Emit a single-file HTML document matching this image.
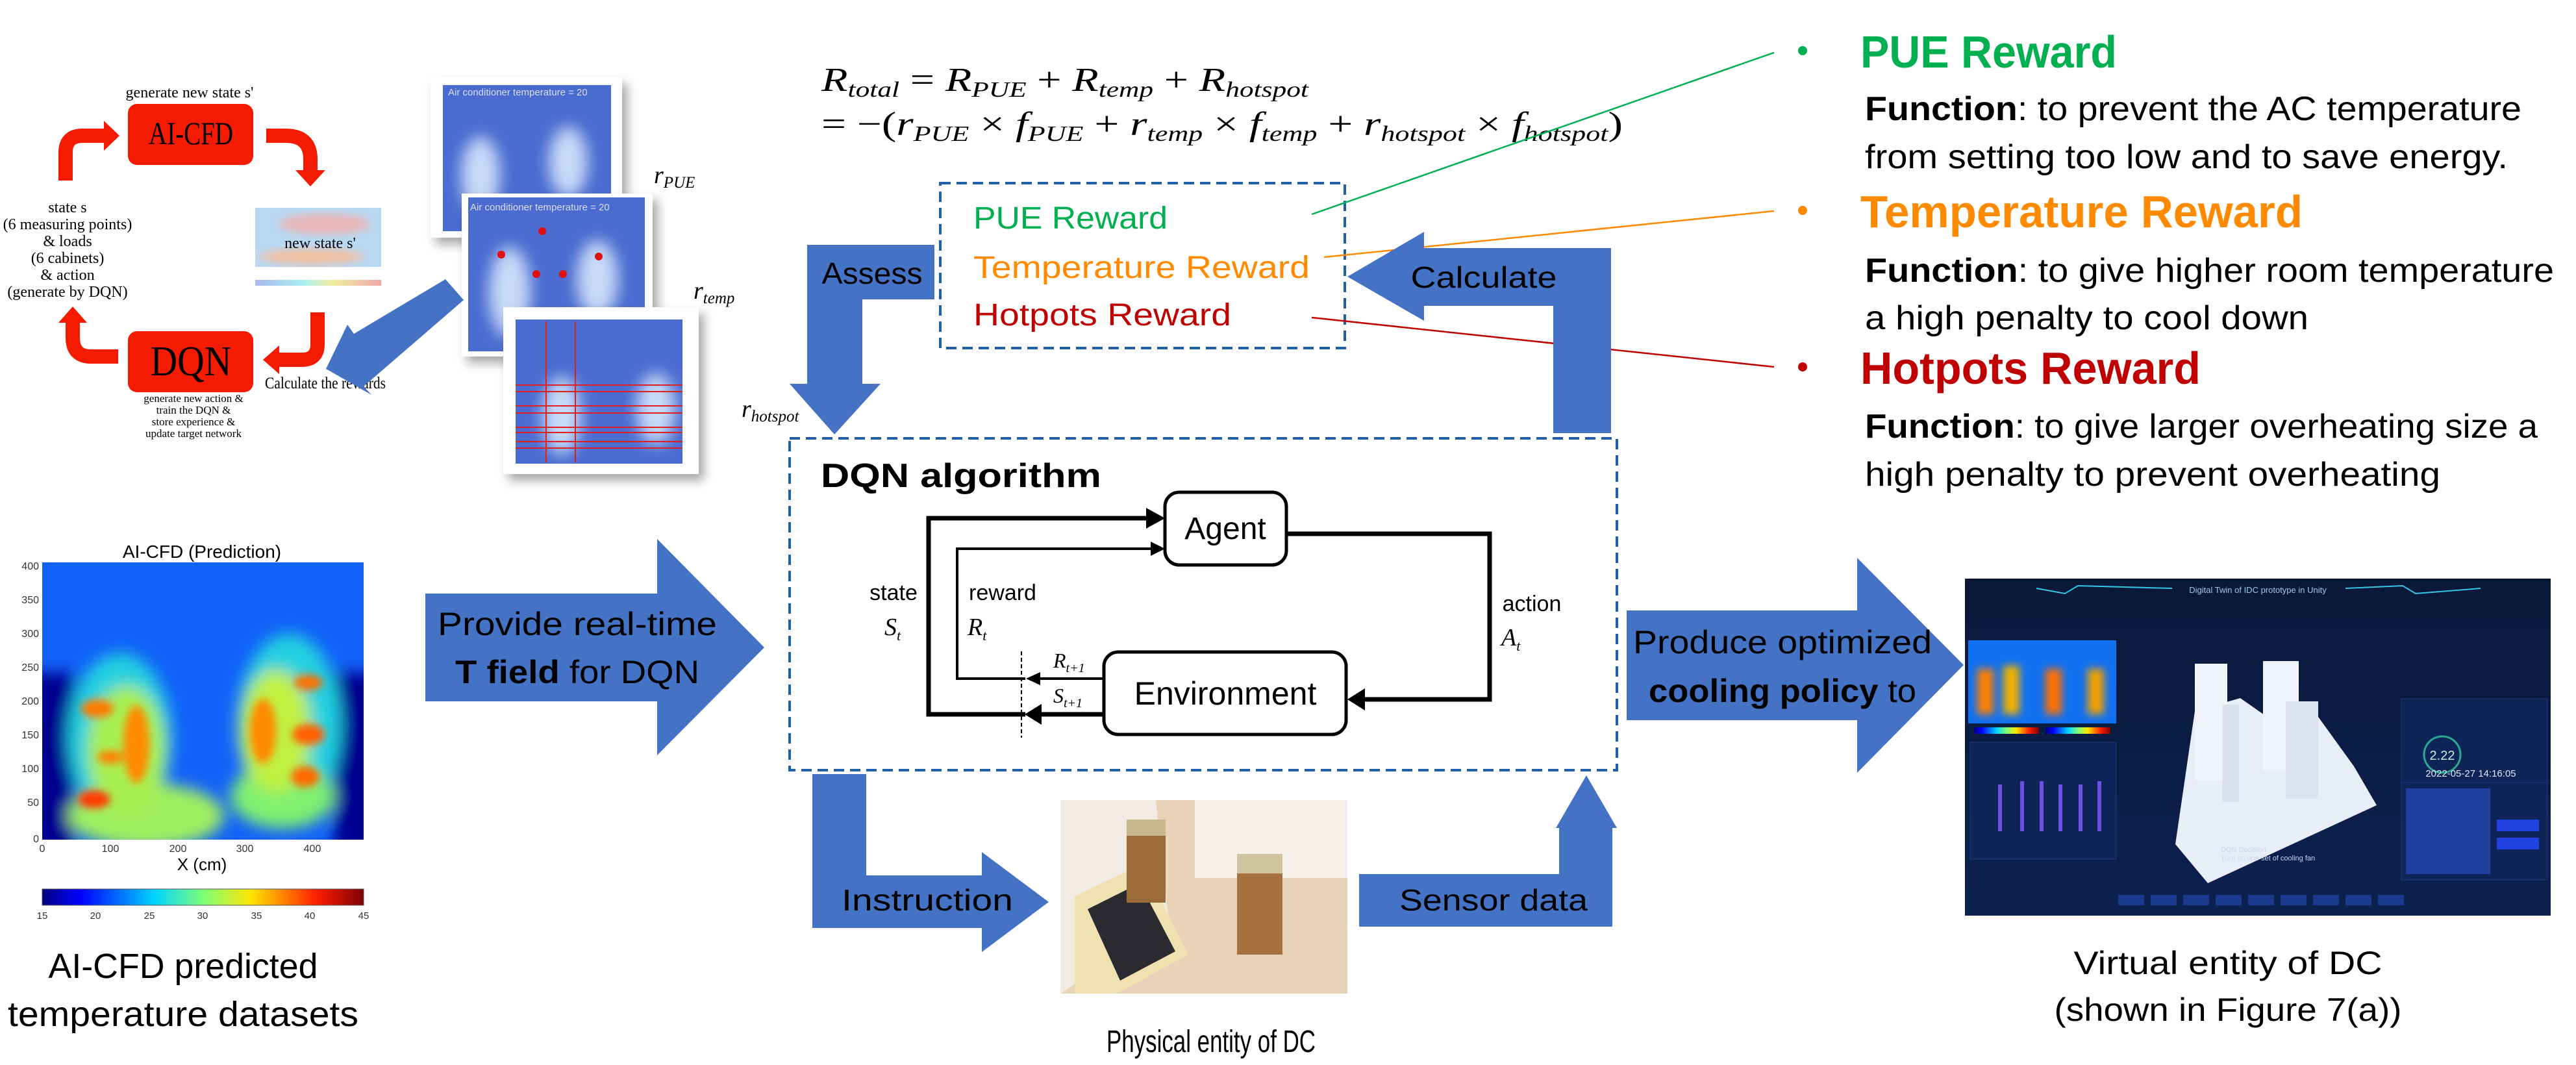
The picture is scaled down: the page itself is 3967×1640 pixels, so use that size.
<!DOCTYPE html>
<html><head><meta charset="utf-8"><style>
html,body{margin:0;padding:0;background:#fff;}
svg{display:block}
.c{font-family:"Liberation Sans",sans-serif}
.s{font-family:"Liberation Serif",serif}
</style></head><body>
<svg width="3967" height="1640" viewBox="0 0 3967 1640" xmlns="http://www.w3.org/2000/svg">
<defs>
<filter id="bl" x="-20%" y="-20%" width="140%" height="140%"><feGaussianBlur stdDeviation="12"/></filter>
<filter id="bl2" x="-20%" y="-20%" width="140%" height="140%"><feGaussianBlur stdDeviation="6"/></filter>
<filter id="sh" x="-10%" y="-10%" width="130%" height="130%"><feDropShadow dx="8" dy="10" stdDeviation="8" flood-color="#000" flood-opacity="0.35"/></filter>
<linearGradient id="jet" x1="0" x2="1" y1="0" y2="0">
<stop offset="0" stop-color="#00007f"/><stop offset="0.12" stop-color="#0000ff"/><stop offset="0.35" stop-color="#00d4ff"/><stop offset="0.5" stop-color="#7cff79"/><stop offset="0.65" stop-color="#ffe600"/><stop offset="0.85" stop-color="#ff2000"/><stop offset="1" stop-color="#7f0000"/></linearGradient>
<linearGradient id="jetl" x1="0" x2="1"><stop offset="0" stop-color="#a8b8f0"/><stop offset="0.4" stop-color="#a8f0f0"/><stop offset="0.6" stop-color="#f0f0a0"/><stop offset="1" stop-color="#f0a8a8"/></linearGradient>
<linearGradient id="scr" x1="0" x2="0" y1="0" y2="1"><stop offset="0" stop-color="#0a1838"/><stop offset="1" stop-color="#0c2050"/></linearGradient>
</defs>

<!-- ===== Top-left loop ===== -->
<text x="292" y="150" class="s" font-size="24" text-anchor="middle">generate new state s'</text>
<rect x="197" y="160" width="193" height="94" rx="14" fill="#f51b00"/>
<text x="294" y="222" class="s" font-size="50" text-anchor="middle" textLength="130" lengthAdjust="spacingAndGlyphs">AI-CFD</text>
<rect x="197" y="510" width="193" height="94" rx="14" fill="#f51b00"/>
<text x="294" y="578" class="s" font-size="66" text-anchor="middle" textLength="125" lengthAdjust="spacingAndGlyphs">DQN</text>
<g fill="none" stroke="#f51b00" stroke-width="22">
<path d="M101,278 L101,235 Q101,209 127,209 L165,209"/>
<path d="M410,209 L440,209 Q478,209 478,245 L478,265"/>
<path d="M182,549 L140,549 Q112,549 112,520 L112,493"/>
<path d="M489,481 L489,530 Q489,554 465,554 L425,554"/>
</g>
<g fill="#f51b00">
<path d="M160,186 L184,209 L160,232 z"/>
<path d="M455,262 L501,262 L478,287 z"/>
<path d="M90,497 L134,497 L112,472 z"/>
<path d="M430,532 L430,576 L405,554 z"/>
</g>
<g class="s" font-size="24" text-anchor="middle">
<text x="104" y="327">state s</text>
<text x="104" y="353">(6 measuring points)</text>
<text x="104" y="379">&amp; loads</text>
<text x="104" y="405">(6 cabinets)</text>
<text x="104" y="431">&amp; action</text>
<text x="104" y="457">(generate by DQN)</text>
</g>
<rect x="393" y="320" width="194" height="91" fill="#b9d8f2"/>
<ellipse cx="500" cy="345" rx="70" ry="16" fill="#e8b8b8" filter="url(#bl2)"/>
<ellipse cx="480" cy="395" rx="80" ry="12" fill="#f0c0a0" filter="url(#bl2)"/>
<rect x="393" y="431" width="194" height="9" fill="url(#jetl)"/>
<text x="493" y="382" class="s" font-size="24" text-anchor="middle">new state s'</text>
<g class="s" font-size="17" text-anchor="middle">
<text x="298" y="619">generate new action &amp;</text>
<text x="298" y="637">train the DQN &amp;</text>
<text x="298" y="655">store experience &amp;</text>
<text x="298" y="673">update target network</text>
</g>
<text x="501" y="598" class="s" font-size="25" text-anchor="middle" textLength="186" lengthAdjust="spacingAndGlyphs">Calculate the rewards</text>

<!-- reward images -->
<g filter="url(#sh)"><rect x="663" y="119" width="295" height="247" fill="#fff"/></g>
<rect x="682" y="131" width="259" height="225" fill="#4a6bd0"/>
<g filter="url(#bl)" fill="#c8daf8"><ellipse cx="740" cy="270" rx="30" ry="60"/><ellipse cx="875" cy="250" rx="30" ry="55"/></g>
<text x="690" y="147" class="c" font-size="15" fill="#dde">Air conditioner temperature = 20</text>
<text x="1007" y="282" class="s" font-style="italic" font-size="38">r<tspan font-size="25" dy="7">PUE</tspan></text>

<g filter="url(#sh)"><rect x="711" y="298" width="294" height="251" fill="#fff"/></g>
<rect x="721" y="304" width="272" height="237" fill="#4a6bd0"/>
<g filter="url(#bl)" fill="#c8daf8"><ellipse cx="785" cy="450" rx="32" ry="70"/><ellipse cx="920" cy="430" rx="32" ry="60"/></g>
<text x="724" y="324" class="c" font-size="15" fill="#dde">Air conditioner temperature = 20</text>
<g fill="#e01010"><circle cx="835" cy="356" r="6"/><circle cx="772" cy="392" r="6"/><circle cx="826" cy="422" r="6"/><circle cx="867" cy="422" r="6"/><circle cx="922" cy="395" r="6"/></g>
<text x="1068" y="460" class="s" font-style="italic" font-size="38">r<tspan font-size="25" dy="7">temp</tspan></text>

<g filter="url(#sh)"><rect x="775" y="473" width="301" height="257" fill="#fff"/></g>
<rect x="794" y="492" width="257" height="222" fill="#4a6bd0"/>
<g filter="url(#bl)" fill="#c8daf8"><ellipse cx="865" cy="640" rx="30" ry="60"/><ellipse cx="1010" cy="630" rx="30" ry="55"/></g>
<g stroke="#e02020" stroke-width="2" fill="none"><path d="M794,593 H1051 M794,603 H1051 M794,625 H1051 M794,636 H1051 M794,658 H1051 M794,666 H1051 M794,680 H1051 M794,690 H1051 M841,495 V712 M886,495 V712"/></g>
<text x="1142" y="642" class="s" font-style="italic" font-size="38">r<tspan font-size="25" dy="7">hotspot</tspan></text>

<!-- blue diagonal arrow -->
<path d="M686,430 L714,462 L560,595 L572,608 L502,568 L535,500 L545,514 z" fill="#4472c4"/>

<!-- ===== formula ===== -->
<g class="s" font-size="52" font-style="italic">
<text x="1265" y="140" textLength="750" lengthAdjust="spacingAndGlyphs">R<tspan font-size="34" dy="9">total</tspan><tspan dy="-9" font-style="normal"> = </tspan>R<tspan font-size="34" dy="9">PUE</tspan><tspan dy="-9" font-style="normal"> + </tspan>R<tspan font-size="34" dy="9">temp</tspan><tspan dy="-9" font-style="normal"> + </tspan>R<tspan font-size="34" dy="9">hotspot</tspan></text>
<text x="1265" y="208" textLength="1234" lengthAdjust="spacingAndGlyphs"><tspan font-style="normal">= −(</tspan>r<tspan font-size="34" dy="9">PUE</tspan><tspan dy="-9" font-style="normal"> × </tspan>f<tspan font-size="34" dy="9">PUE</tspan><tspan dy="-9" font-style="normal"> + </tspan>r<tspan font-size="34" dy="9">temp</tspan><tspan dy="-9" font-style="normal"> × </tspan>f<tspan font-size="34" dy="9">temp</tspan><tspan dy="-9" font-style="normal"> + </tspan>r<tspan font-size="34" dy="9">hotspot</tspan><tspan dy="-9" font-style="normal"> × </tspan>f<tspan font-size="34" dy="9">hotspot</tspan><tspan dy="-9" font-style="normal">)</tspan></text>
</g>

<!-- reward dashed box -->
<rect x="1448" y="282" width="623" height="254" fill="none" stroke="#1f5fa8" stroke-width="4" stroke-dasharray="16,9"/>
<text x="1499" y="352" class="c" font-size="48" fill="#00b050" textLength="299" lengthAdjust="spacingAndGlyphs">PUE Reward</text>
<text x="1499" y="428" class="c" font-size="48" fill="#ff8a00" textLength="518" lengthAdjust="spacingAndGlyphs">Temperature Reward</text>
<text x="1499" y="501" class="c" font-size="48" fill="#c00000" textLength="397" lengthAdjust="spacingAndGlyphs">Hotpots Reward</text>

<!-- leader lines -->
<line x1="2020" y1="330" x2="2732" y2="81" stroke="#00b050" stroke-width="2.5"/>
<line x1="2039" y1="396" x2="2732" y2="325" stroke="#ff8a00" stroke-width="2.5"/>
<line x1="2020" y1="489" x2="2732" y2="565" stroke="#c00000" stroke-width="2.5"/>

<!-- right text -->
<circle cx="2776" cy="78" r="7" fill="#00b050"/>
<text x="2865" y="104" class="c" font-size="70" font-weight="bold" fill="#00b050" textLength="395" lengthAdjust="spacingAndGlyphs">PUE Reward</text>
<g class="c" font-size="52">
<text x="2872" y="185" textLength="1011" lengthAdjust="spacingAndGlyphs"><tspan font-weight="bold">Function</tspan>: to prevent the AC temperature</text>
<text x="2872" y="259" textLength="990" lengthAdjust="spacingAndGlyphs">from setting too low and to save energy.</text>
</g>
<circle cx="2776" cy="324" r="7" fill="#ff8a00"/>
<text x="2865" y="350" class="c" font-size="70" font-weight="bold" fill="#ff8a00" textLength="681" lengthAdjust="spacingAndGlyphs">Temperature Reward</text>
<g class="c" font-size="52">
<text x="2872" y="434" textLength="1061" lengthAdjust="spacingAndGlyphs"><tspan font-weight="bold">Function</tspan>: to give higher room temperature</text>
<text x="2872" y="507" textLength="683" lengthAdjust="spacingAndGlyphs">a high penalty to cool down</text>
</g>
<circle cx="2776" cy="565" r="7" fill="#c00000"/>
<text x="2865" y="591" class="c" font-size="70" font-weight="bold" fill="#c00000" textLength="524" lengthAdjust="spacingAndGlyphs">Hotpots Reward</text>
<g class="c" font-size="52">
<text x="2872" y="674" textLength="1036" lengthAdjust="spacingAndGlyphs"><tspan font-weight="bold">Function</tspan>: to give larger overheating size a</text>
<text x="2872" y="748" textLength="886" lengthAdjust="spacingAndGlyphs">high penalty to prevent overheating</text>
</g>

<!-- Assess arrow -->
<path d="M1243,377 L1439,377 L1439,461 L1328,461 L1328,591 L1356,591 L1285,669 L1216,591 L1243,591 z" fill="#4472c4"/>
<text x="1343" y="437" class="c" font-size="46" text-anchor="middle" textLength="155" lengthAdjust="spacingAndGlyphs">Assess</text>
<!-- Calculate arrow -->
<path d="M2481,382 L2481,667 L2392,667 L2392,471 L2193,471 L2193,494 L2075,426 L2193,357 L2193,382 z" fill="#4472c4"/>
<text x="2285" y="443" class="c" font-size="46" text-anchor="middle" textLength="225" lengthAdjust="spacingAndGlyphs">Calculate</text>

<!-- DQN dashed box -->
<rect x="1216" y="675" width="1274" height="511" fill="none" stroke="#1f5fa8" stroke-width="4" stroke-dasharray="16,9"/>
<text x="1264" y="750" class="c" font-size="52" font-weight="bold" textLength="432" lengthAdjust="spacingAndGlyphs">DQN algorithm</text>
<rect x="1794" y="758" width="187" height="112" rx="22" fill="#fff" stroke="#000" stroke-width="5"/>
<text x="1887" y="830" class="c" font-size="48" text-anchor="middle">Agent</text>
<rect x="1700" y="1004" width="373" height="127" rx="22" fill="#fff" stroke="#000" stroke-width="5"/>
<text x="1887" y="1085" class="c" font-size="50" text-anchor="middle">Environment</text>
<g fill="none" stroke="#000">
<path d="M1579,1100 L1430,1100 L1430,798 L1770,798" stroke-width="7"/>
<path d="M1579,1045 L1474,1045 L1474,845 L1775,845" stroke-width="4"/>
<path d="M1981,822 L2294,822 L2294,1077 L2100,1077" stroke-width="7"/>
<path d="M1700,1045 L1600,1045" stroke-width="4"/>
<path d="M1700,1100 L1600,1100" stroke-width="7"/>
<line x1="1573" y1="1003" x2="1573" y2="1136" stroke-width="2" stroke-dasharray="6,4"/>
</g>
<g fill="#000">
<path d="M1765,782 L1794,798 L1765,814 z"/>
<path d="M1772,834 L1794,845 L1772,856 z"/>
<path d="M2102,1060 L2075,1077 L2102,1094 z"/>
<path d="M1602,1035 L1580,1045 L1602,1055 z"/>
<path d="M1604,1084 L1578,1100 L1604,1116 z"/>
</g>
<g class="c" font-size="34">
<text x="1376" y="924" text-anchor="middle">state</text>
<text x="1544" y="924" text-anchor="middle">reward</text>
<text x="2359" y="941" text-anchor="middle">action</text>
</g>
<g class="s" font-style="italic" font-size="38">
<text x="1362" y="978">S<tspan font-size="22" dy="8">t</tspan></text>
<text x="1490" y="978">R<tspan font-size="22" dy="8">t</tspan></text>
<text x="2312" y="994">A<tspan font-size="22" dy="8">t</tspan></text>
<text x="1622" y="1028" font-size="32">R<tspan font-size="20" dy="7">t+1</tspan></text>
<text x="1622" y="1082" font-size="32">S<tspan font-size="20" dy="7">t+1</tspan></text>
</g>

<!-- Instruction arrow -->
<path d="M1251,1192 L1334,1192 L1334,1348 L1512,1348 L1512,1312 L1615,1389 L1512,1466 L1512,1429 L1251,1429 z" fill="#4472c4"/>
<text x="1428" y="1402" class="c" font-size="46" text-anchor="middle" textLength="264" lengthAdjust="spacingAndGlyphs">Instruction</text>
<!-- Sensor arrow -->
<path d="M2093,1346 L2401,1346 L2401,1275 L2396,1275 L2443,1194 L2490,1275 L2483,1275 L2483,1427 L2093,1427 z" fill="#4472c4"/>
<text x="2300" y="1402" class="c" font-size="46" text-anchor="middle" textLength="290" lengthAdjust="spacingAndGlyphs">Sensor data</text>

<!-- photo -->
<rect x="1633" y="1232" width="442" height="298" fill="#e8d2b8"/>
<path d="M1633,1232 L1780,1232 L1800,1420 L1633,1530 z" fill="#f2ece4"/>
<rect x="1840" y="1232" width="235" height="120" fill="#f6f0ea"/>
<path d="M1655,1380 L1760,1330 L1830,1470 L1720,1530 L1655,1530 z" fill="#f0e2b0"/>
<path d="M1675,1400 L1755,1360 L1810,1465 L1725,1510 z" fill="#2a2a30"/>
<rect x="1735" y="1270" width="60" height="120" fill="#9a6a38"/>
<rect x="1735" y="1262" width="60" height="25" fill="#c8b890"/>
<rect x="1905" y="1330" width="70" height="140" fill="#a87240"/>
<rect x="1905" y="1315" width="70" height="30" fill="#d0c4a0"/>
<text x="1865" y="1620" class="c" font-size="48" text-anchor="middle" textLength="322" lengthAdjust="spacingAndGlyphs">Physical entity of DC</text>

<!-- ===== Bottom-left heatmap ===== -->
<text x="311" y="859" class="c" font-size="28" text-anchor="middle">AI-CFD (Prediction)</text>
<svg x="65" y="866" width="495" height="427" viewBox="0 0 495 427">
<rect width="495" height="427" fill="#0a55f0"/>
<rect width="495" height="427" fill="#1a70ff" opacity="0.5"/>
<g filter="url(#bl)">
<rect x="-20" y="170" width="70" height="300" fill="#00008f"/>
<rect x="450" y="170" width="70" height="300" fill="#00008f"/>
<ellipse cx="120" cy="270" rx="80" ry="130" fill="#20d0e0"/>
<ellipse cx="380" cy="250" rx="80" ry="140" fill="#20d0e0"/>
<ellipse cx="160" cy="390" rx="120" ry="50" fill="#a0f060"/>
<ellipse cx="370" cy="360" rx="80" ry="50" fill="#80f070"/>
<ellipse cx="130" cy="290" rx="60" ry="100" fill="#a8f050"/>
<ellipse cx="360" cy="260" rx="55" ry="95" fill="#c0f040"/>
</g>
<g filter="url(#bl2)">
<ellipse cx="85" cy="225" rx="25" ry="14" fill="#ff7a00"/>
<ellipse cx="145" cy="280" rx="20" ry="60" fill="#ff8a00"/>
<ellipse cx="80" cy="365" rx="25" ry="14" fill="#ff3a00"/>
<ellipse cx="105" cy="300" rx="20" ry="10" fill="#ff8000"/>
<ellipse cx="340" cy="260" rx="20" ry="50" fill="#ff8a00"/>
<ellipse cx="410" cy="185" rx="22" ry="12" fill="#ff7000"/>
<ellipse cx="410" cy="265" rx="25" ry="16" fill="#ff6000"/>
<ellipse cx="405" cy="330" rx="22" ry="16" fill="#ff6a00"/>
</g>
</svg>
<g class="c" font-size="16" fill="#333" text-anchor="end">
<text x="60" y="877">400</text><text x="60" y="929">350</text><text x="60" y="981">300</text><text x="60" y="1033">250</text><text x="60" y="1085">200</text><text x="60" y="1137">150</text><text x="60" y="1189">100</text><text x="60" y="1241">50</text><text x="60" y="1297">0</text>
</g>
<g class="c" font-size="16" fill="#333" text-anchor="middle">
<text x="65" y="1312">0</text><text x="170" y="1312">100</text><text x="274" y="1312">200</text><text x="377" y="1312">300</text><text x="481" y="1312">400</text>
</g>
<text x="311" y="1340" class="c" font-size="26" text-anchor="middle">X (cm)</text>
<rect x="65" y="1369" width="495" height="25" fill="url(#jet)" stroke="#555" stroke-width="1"/>
<g class="c" font-size="15" fill="#333" text-anchor="middle">
<text x="65" y="1415">15</text><text x="147" y="1415">20</text><text x="230" y="1415">25</text><text x="312" y="1415">30</text><text x="395" y="1415">35</text><text x="477" y="1415">40</text><text x="560" y="1415">45</text>
</g>
<text x="282" y="1506" class="c" font-size="54" text-anchor="middle" textLength="415" lengthAdjust="spacingAndGlyphs">AI-CFD predicted</text>
<text x="282" y="1580" class="c" font-size="54" text-anchor="middle" textLength="540" lengthAdjust="spacingAndGlyphs">temperature datasets</text>

<!-- Provide arrow -->
<path d="M655,914 L1012,914 L1012,830 L1177,997 L1012,1163 L1012,1080 L655,1080 z" fill="#4472c4"/>
<text x="889" y="978" class="c" font-size="50" text-anchor="middle" textLength="430" lengthAdjust="spacingAndGlyphs">Provide real-time</text>
<text x="889" y="1052" class="c" font-size="50" text-anchor="middle" textLength="376" lengthAdjust="spacingAndGlyphs"><tspan font-weight="bold">T field</tspan> for DQN</text>

<!-- Produce arrow -->
<path d="M2505,940 L2860,940 L2860,859 L3024,1024 L2860,1190 L2860,1109 L2505,1109 z" fill="#4472c4"/>
<text x="2745" y="1006" class="c" font-size="50" text-anchor="middle" textLength="460" lengthAdjust="spacingAndGlyphs">Produce optimized</text>
<text x="2745" y="1081" class="c" font-size="50" text-anchor="middle" textLength="412" lengthAdjust="spacingAndGlyphs"><tspan font-weight="bold">cooling policy</tspan> to</text>

<!-- screen -->
<rect x="3026" y="891" width="902" height="519" fill="url(#scr)"/>
<text x="3477" y="913" class="c" font-size="13" fill="#9fc8e8" text-anchor="middle">Digital Twin of IDC prototype in Unity</text>
<path d="M3136,906 L3180,914 L3200,902 L3345,906 M3612,906 L3700,902 L3720,914 L3820,906" stroke="#30c8e8" stroke-width="2" fill="none"/>
<rect x="3031" y="986" width="228" height="128" fill="#1070f0"/>
<g filter="url(#bl2)"><rect x="3045" y="1030" width="25" height="70" fill="#ff8000"/><rect x="3085" y="1025" width="25" height="75" fill="#f0b000"/><rect x="3150" y="1030" width="25" height="70" fill="#ff7000"/><rect x="3215" y="1030" width="25" height="70" fill="#f0a000"/></g>
<rect x="3040" y="1120" width="100" height="10" fill="url(#jet)"/><rect x="3150" y="1120" width="100" height="10" fill="url(#jet)"/>
<rect x="3034" y="1143" width="225" height="180" fill="#0e2458" stroke="#1a3a80"/>
<g fill="#6a50e0"><rect x="3077" y="1208" width="6" height="72"/><rect x="3111" y="1203" width="6" height="77"/><rect x="3141" y="1203" width="6" height="77"/><rect x="3170" y="1208" width="6" height="72"/><rect x="3201" y="1208" width="6" height="72"/><rect x="3230" y="1203" width="6" height="77"/></g>
<path d="M3380,1095 L3450,1075 L3500,1110 L3560,1090 L3625,1180 L3660,1240 L3400,1360 L3350,1300 z" fill="#e8eef8"/>
<rect x="3380" y="1022" width="50" height="180" fill="#f0f4fa"/>
<rect x="3485" y="1018" width="55" height="170" fill="#f0f4fa"/>
<rect x="3423" y="1085" width="25" height="150" fill="#d8e0ee"/>
<rect x="3520" y="1080" width="50" height="150" fill="#dde4f0"/>
<rect x="3698" y="1076" width="225" height="175" fill="#0e2458" stroke="#1a3a80"/>
<circle cx="3761" cy="1162" r="28" fill="none" stroke="#2aa890" stroke-width="3"/>
<text x="3761" y="1170" class="c" font-size="20" fill="#c0f0e0" text-anchor="middle">2.22</text>
<text x="3805" y="1196" class="c" font-size="15" fill="#e0e8f8" text-anchor="middle">2022-05-27 14:16:05</text>
<rect x="3698" y="1205" width="225" height="150" fill="#0e2458" stroke="#1a3a80"/>
<rect x="3705" y="1214" width="130" height="132" fill="#2040a0"/>
<rect x="3845" y="1262" width="65" height="18" fill="#2040e0"/><rect x="3845" y="1290" width="65" height="18" fill="#2040e0"/>
<g fill="#1a3a90"><rect x="3262" y="1378" width="40" height="16"/><rect x="3312" y="1378" width="40" height="16"/><rect x="3362" y="1378" width="40" height="16"/><rect x="3412" y="1378" width="40" height="16"/><rect x="3462" y="1378" width="40" height="16"/><rect x="3512" y="1378" width="40" height="16"/><rect x="3562" y="1378" width="40" height="16"/><rect x="3612" y="1378" width="40" height="16"/><rect x="3662" y="1378" width="40" height="16"/></g>
<text x="3420" y="1312" class="c" font-size="11" fill="#c8d8f0">DQN Decision</text>
<text x="3420" y="1325" class="c" font-size="11" fill="#c8d8f0">Turn on one set of cooling fan</text>
<text x="3431" y="1500" class="c" font-size="50" text-anchor="middle" textLength="475" lengthAdjust="spacingAndGlyphs">Virtual entity of DC</text>
<text x="3431" y="1572" class="c" font-size="50" text-anchor="middle" textLength="535" lengthAdjust="spacingAndGlyphs">(shown in Figure 7(a))</text>
</svg>
</body></html>
